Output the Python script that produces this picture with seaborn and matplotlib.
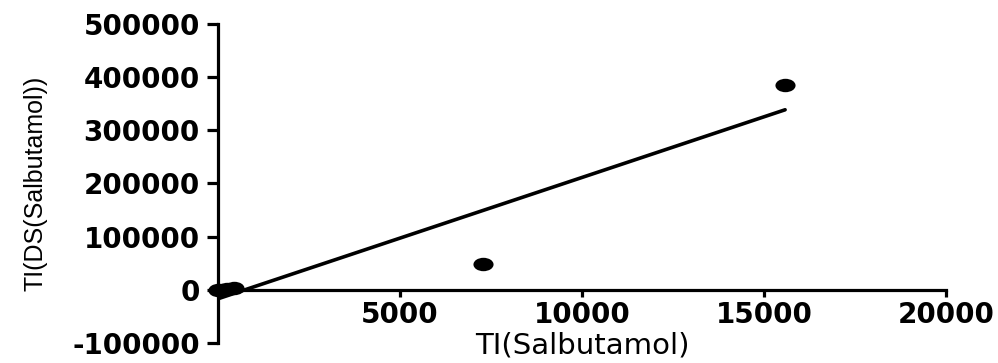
import seaborn as sns
import matplotlib.pyplot as plt
import pandas as pd
from matplotlib.path import Path
from matplotlib.transforms import Affine2D


# values
ti_salbutamol = [0, 100, 250, 450, 7280, 15580]
ti_ds_salbutamol = [0, 500, 1500, 3000, 48900, 385000]
x_ticks = [5000, 10000, 15000, 20000]
y_ticks = [-100000, 0, 100000, 200000, 300000, 400000, 500000]

df = pd.DataFrame({'TI(Salbutamol)': ti_salbutamol,
                   'TI(DS(Salbutamol))': ti_ds_salbutamol})

sns.set_style('ticks', {'axes.edgecolor': 'black', 'text.color': 'black',
                        'axes.labelcolor': 'black', 'xtick.color': 'black',
                        'ytick.color': 'black'})
plt.rcParams['font.family'] = ['DejaVu Sans']
plt.rcParams['axes.unicode_minus'] = False

fig = plt.figure(figsize=(9.98, 3.63), dpi=100)
ax = fig.add_axes([0.2184, 0.0551, 0.7295, 0.8788])

# the reference is stretched sideways, so the dots are wide ellipses
ellipse = Path.unit_circle().transformed(Affine2D().scale(1.5, 1.0))

sns.regplot(data=df, x='TI(Salbutamol)', y='TI(DS(Salbutamol))', ax=ax,
            ci=None, marker=ellipse, color='black', truncate=True,
            scatter_kws={'s': 210, 'alpha': 1, 'clip_on': False,
                         'linewidths': 0, 'zorder': 3},
            line_kws={'lw': 2.6, 'zorder': 2})

sns.despine(ax=ax)
ax.spines['bottom'].set_position(('data', 0))
for side in ['left', 'bottom']:
    ax.spines[side].set_linewidth(2.3)

# ticks after moving the spine, which resets them
ax.set_xlim(0, 20000)
ax.set_ylim(-100000, 500000)
ax.set_xticks(x_ticks)
ax.set_yticks(y_ticks)
ax.set_xticklabels([str(v) for v in x_ticks], fontsize=20, fontweight='bold')
ax.set_yticklabels([str(v) for v in y_ticks], fontsize=20, fontweight='bold')
ax.tick_params(axis='y', length=8, width=2.3, pad=5, colors='black')
ax.tick_params(axis='x', length=5, width=2.3, pad=3, colors='black')

ax.set_xlabel('TI(Salbutamol)', fontsize=21)
ax.xaxis.set_label_coords(0.5, 0.036)
ax.set_ylabel('TI(DS(Salbutamol))', fontsize=18,
              family=['Liberation Sans', 'DejaVu Sans'])
ax.yaxis.set_label_coords(-0.234, 0.5)

fig.savefig('out.png', dpi=100)
